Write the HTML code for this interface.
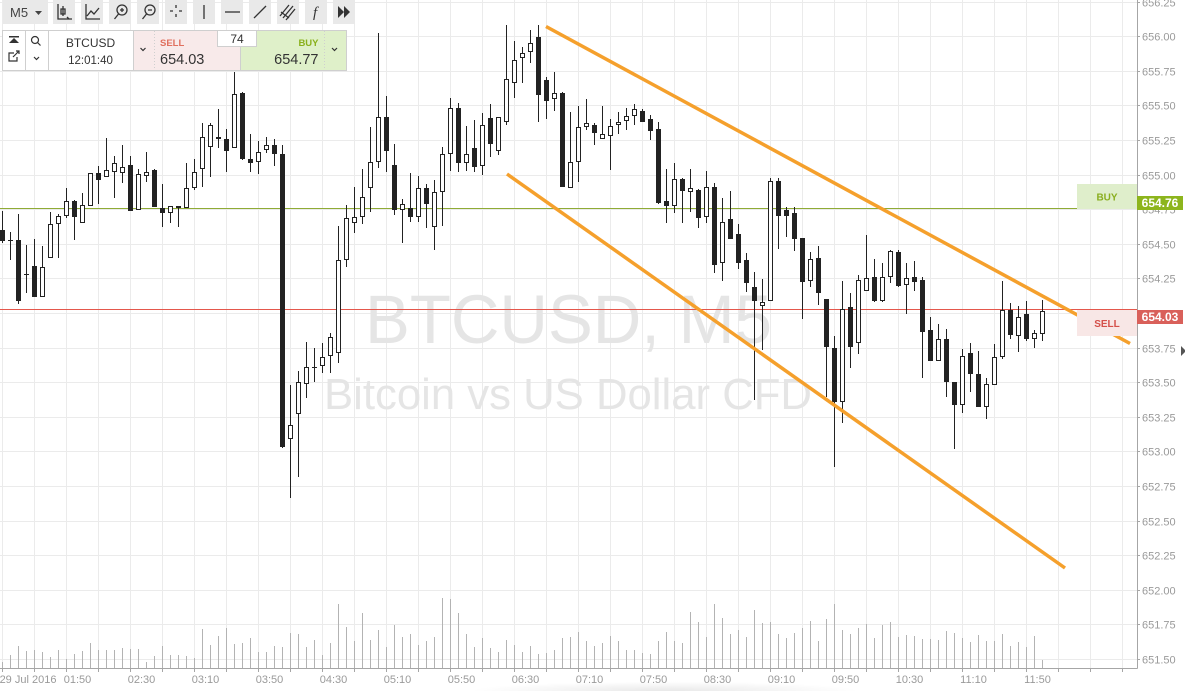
<!DOCTYPE html>
<html><head><meta charset="utf-8">
<style>
html,body{margin:0;padding:0;background:#fff;width:1185px;height:691px;overflow:hidden;}
body{position:relative;font-family:"Liberation Sans",Arial,sans-serif;}
svg{position:absolute;left:0;top:0;display:block;}
</style></head>
<body>
<svg width="1185" height="691" viewBox="0 0 1185 691" xmlns="http://www.w3.org/2000/svg" overflow="hidden">
<defs>
<radialGradient id="sh" cx="0.5" cy="1" r="0.5">
<stop offset="0" stop-color="#000" stop-opacity="0.09"/>
<stop offset="1" stop-color="#000" stop-opacity="0"/>
</radialGradient>
</defs>
<rect x="0" y="0" width="1185" height="691" fill="#fff"/>
<!-- grid -->
<g stroke="#ebebeb" stroke-width="1" fill="none">
<path d="M0 2.5H1137M0 36.5H1137M0 71.5H1137M0 105.5H1137M0 140.5H1137M0 175.5H1137M0 209.5H1137M0 244.5H1137M0 278.5H1137M0 313.5H1137M0 348.5H1137M0 382.5H1137M0 417.5H1137M0 451.5H1137M0 486.5H1137M0 521.5H1137M0 555.5H1137M0 590.5H1137M0 624.5H1137M0 659.5H1137"/>
<path d="M2.5 0V668M34.5 0V668M66.5 0V668M98.5 0V668M130.5 0V668M162.5 0V668M194.5 0V668M226.5 0V668M258.5 0V668M290.5 0V668M322.5 0V668M354.5 0V668M386.5 0V668M418.5 0V668M450.5 0V668M482.5 0V668M514.5 0V668M546.5 0V668M578.5 0V668M610.5 0V668M642.5 0V668M674.5 0V668M706.5 0V668M738.5 0V668M770.5 0V668M802.5 0V668M834.5 0V668M866.5 0V668M898.5 0V668M930.5 0V668M962.5 0V668M994.5 0V668M1026.5 0V668M1058.5 0V668M1090.5 0V668M1122.5 0V668"/>
</g>
<!-- watermark -->
<text x="365" y="343" font-family="Liberation Sans, Arial, sans-serif" font-size="69" fill="#e5e5e5" textLength="407" lengthAdjust="spacingAndGlyphs">BTCUSD, M5</text>
<text x="324" y="409" font-family="Liberation Sans, Arial, sans-serif" font-size="43.5" fill="#e5e5e5" textLength="488" lengthAdjust="spacingAndGlyphs">Bitcoin vs US Dollar CFD</text>
<!-- volume -->
<path stroke="#b3b3b3" stroke-width="1" fill="none" d="M2.5 668V662M10.5 668V655M18.5 668V646M26.5 668V651M34.5 668V650M42.5 668V652M50.5 668V657M58.5 668V650M66.5 668V659M74.5 668V654M82.5 668V651M90.5 668V643M98.5 668V650M106.5 668V650M114.5 668V650M122.5 668V648M130.5 668V649M138.5 668V649M146.5 668V662M154.5 668V656M162.5 668V646M170.5 668V655M178.5 668V655M186.5 668V656M194.5 668V658M202.5 668V629M210.5 668V645M218.5 668V636M226.5 668V628M234.5 668V644M242.5 668V643M250.5 668V638M258.5 668V652M266.5 668V652M274.5 668V646M282.5 668V647M290.5 668V633M298.5 668V634M306.5 668V647M314.5 668V640M322.5 668V655M330.5 668V643M338.5 668V604M346.5 668V627M354.5 668V641M362.5 668V613M370.5 668V640M378.5 668V630M386.5 668V647M394.5 668V625M402.5 668V637M410.5 668V634M418.5 668V645M426.5 668V641M434.5 668V637M442.5 668V598M450.5 668V599M458.5 668V613M466.5 668V634M474.5 668V647M482.5 668V638M490.5 668V648M498.5 668V652M506.5 668V640M514.5 668V645M522.5 668V652M530.5 668V646M538.5 668V654M546.5 668V653M554.5 668V650M562.5 668V638M570.5 668V637M578.5 668V632M586.5 668V641M594.5 668V646M602.5 668V643M610.5 668V636M618.5 668V641M626.5 668V650M634.5 668V650M642.5 668V653M650.5 668V654M658.5 668V641M666.5 668V632M674.5 668V641M682.5 668V643M690.5 668V612M698.5 668V622M706.5 668V637M714.5 668V604M722.5 668V618M730.5 668V634M738.5 668V630M746.5 668V637M754.5 668V610M762.5 668V623M770.5 668V622M778.5 668V634M786.5 668V638M794.5 668V633M802.5 668V628M810.5 668V621M818.5 668V641M826.5 668V619M834.5 668V604M842.5 668V630M850.5 668V634M858.5 668V628M866.5 668V624M874.5 668V638M882.5 668V625M890.5 668V622M898.5 668V637M906.5 668V635M914.5 668V636M922.5 668V639M930.5 668V639M938.5 668V640M946.5 668V631M954.5 668V633M962.5 668V638M970.5 668V642M978.5 668V635M986.5 668V641M994.5 668V641M1002.5 668V634M1010.5 668V646M1018.5 668V642M1026.5 668V647M1034.5 668V636M1042.5 668V660"/>
<!-- buy / sell lines -->
<path d="M0 208.5H1137" stroke="#8fab35" stroke-width="1"/>
<path d="M0 309.5H1137" stroke="#e4574c" stroke-width="1"/>
<!-- wicks -->
<path stroke="#222" stroke-width="1" fill="none" d="M2.5 211V243M10.5 232V260M18.5 214V304M26.5 245V293M34.5 239V297M42.5 246V297M50.5 212V258M58.5 214V258M66.5 188V218M74.5 200V240M82.5 193V223M90.5 173V206M98.5 166V204M106.5 138V177M114.5 156V198M122.5 145V183M130.5 156V211M138.5 169V210M146.5 152V182M154.5 169V207M162.5 184V227M170.5 206V223M178.5 206V227M186.5 163V208M194.5 159V190M202.5 123V187M210.5 123V177M218.5 109V148M226.5 129V172M234.5 72V148M242.5 92V160M250.5 134V172M258.5 141V174M266.5 137V153M274.5 139V166M282.5 145V448M290.5 385V498M298.5 371V477M306.5 342V398M314.5 348V382M322.5 343V373M330.5 333V373M338.5 226V363M346.5 205V267M354.5 187V233M362.5 169V224M370.5 127V212M378.5 33V168M386.5 96V172M394.5 144V215M402.5 199V243M410.5 173V222M418.5 176V222M426.5 184V228M434.5 180V250M442.5 147V226M450.5 98V171M458.5 103V172M466.5 126V171M474.5 120V172M482.5 113V175M490.5 104V157M498.5 117V155M506.5 25V125M514.5 41V98M522.5 47V83M530.5 30V63M538.5 25V122M546.5 77V119M554.5 72V111M562.5 92V187M570.5 112V188M578.5 106V182M586.5 99V130M594.5 123V145M602.5 106V139M610.5 119V170M618.5 112V134M626.5 108V130M634.5 104V125M642.5 109V122M650.5 115V140M658.5 122V204M666.5 169V223M674.5 163V213M682.5 178V223M690.5 169V212M698.5 189V228M706.5 171V223M714.5 183V273M722.5 198V281M730.5 191V239M738.5 224V269M746.5 253V292M754.5 272V400M762.5 279V350M770.5 178V301M778.5 178V249M786.5 207V237M794.5 207V251M802.5 238V319M810.5 252V287M818.5 246V305M826.5 299V397M834.5 336V467M842.5 281V423M850.5 293V368M858.5 275V354M866.5 235V291M874.5 259V302M882.5 263V302M890.5 250V283M898.5 250V287M906.5 263V314M914.5 261V291M922.5 277V378M930.5 317V361M938.5 324V361M946.5 329V397M954.5 382V449M962.5 349V413M970.5 343V392M978.5 351V407M986.5 378V419M994.5 344V385M1002.5 281V359M1010.5 303V339M1018.5 306V352M1026.5 301V341M1034.5 330V348M1042.5 300V341"/>
<!-- black bodies -->
<g fill="#222">
<rect x="0" y="230" width="5" height="11"/>
<rect x="8" y="240" width="5" height="1"/>
<rect x="16" y="240" width="5" height="61"/>
<rect x="24" y="274" width="5" height="1"/>
<rect x="32" y="266" width="5" height="31"/>
<rect x="72" y="201" width="5" height="16"/>
<rect x="96" y="173" width="5" height="7"/>
<rect x="128" y="165" width="5" height="46"/>
<rect x="152" y="170" width="5" height="37"/>
<rect x="160" y="208" width="5" height="5"/>
<rect x="176" y="206" width="5" height="2"/>
<rect x="216" y="137" width="5" height="2"/>
<rect x="224" y="139" width="5" height="12"/>
<rect x="240" y="93" width="5" height="66"/>
<rect x="248" y="159" width="5" height="4"/>
<rect x="272" y="145" width="5" height="9"/>
<rect x="280" y="154" width="5" height="293"/>
<rect x="312" y="367" width="5" height="1"/>
<rect x="384" y="117" width="5" height="34"/>
<rect x="392" y="165" width="5" height="45"/>
<rect x="408" y="208" width="5" height="9"/>
<rect x="424" y="188" width="5" height="16"/>
<rect x="456" y="108" width="5" height="55"/>
<rect x="472" y="148" width="5" height="19"/>
<rect x="488" y="118" width="5" height="26"/>
<rect x="536" y="37" width="5" height="58"/>
<rect x="544" y="80" width="5" height="21"/>
<rect x="560" y="93" width="5" height="94"/>
<rect x="592" y="125" width="5" height="8"/>
<rect x="640" y="111" width="5" height="11"/>
<rect x="648" y="119" width="5" height="12"/>
<rect x="656" y="129" width="5" height="74"/>
<rect x="664" y="201" width="5" height="5"/>
<rect x="680" y="179" width="5" height="12"/>
<rect x="696" y="190" width="5" height="28"/>
<rect x="712" y="187" width="5" height="78"/>
<rect x="728" y="219" width="5" height="20"/>
<rect x="736" y="234" width="5" height="29"/>
<rect x="744" y="260" width="5" height="23"/>
<rect x="752" y="287" width="5" height="14"/>
<rect x="776" y="181" width="5" height="35"/>
<rect x="784" y="210" width="5" height="6"/>
<rect x="792" y="213" width="5" height="26"/>
<rect x="800" y="238" width="5" height="44"/>
<rect x="816" y="258" width="5" height="35"/>
<rect x="824" y="299" width="5" height="48"/>
<rect x="832" y="348" width="5" height="54"/>
<rect x="848" y="307" width="5" height="40"/>
<rect x="872" y="277" width="5" height="24"/>
<rect x="896" y="252" width="5" height="34"/>
<rect x="912" y="277" width="5" height="5"/>
<rect x="920" y="280" width="5" height="52"/>
<rect x="928" y="330" width="5" height="31"/>
<rect x="944" y="339" width="5" height="43"/>
<rect x="952" y="382" width="5" height="23"/>
<rect x="968" y="353" width="5" height="21"/>
<rect x="976" y="374" width="5" height="33"/>
<rect x="1008" y="310" width="5" height="25"/>
<rect x="1024" y="314" width="5" height="25"/>
</g>
<!-- white bodies -->
<g fill="#fff" stroke="#222" stroke-width="1">
<rect x="40.5" y="267.5" width="4" height="29"/>
<rect x="48.5" y="224.5" width="4" height="33"/>
<rect x="56.5" y="216.5" width="4" height="7"/>
<rect x="64.5" y="201.5" width="4" height="14"/>
<rect x="80.5" y="205.5" width="4" height="17"/>
<rect x="88.5" y="173.5" width="4" height="32"/>
<rect x="104.5" y="170.5" width="4" height="6"/>
<rect x="112.5" y="163.5" width="4" height="8"/>
<rect x="120.5" y="167.5" width="4" height="5"/>
<rect x="136.5" y="174.5" width="4" height="35"/>
<rect x="144.5" y="172.5" width="4" height="3"/>
<rect x="168.5" y="206.5" width="4" height="6"/>
<rect x="184.5" y="188.5" width="4" height="19"/>
<rect x="192.5" y="172.5" width="4" height="15"/>
<rect x="200.5" y="137.5" width="4" height="31"/>
<rect x="208.5" y="125.5" width="4" height="21"/>
<rect x="232.5" y="94.5" width="4" height="53"/>
<rect x="256.5" y="152.5" width="4" height="9"/>
<rect x="264.5" y="145.5" width="4" height="4"/>
<rect x="288.5" y="425.5" width="4" height="13"/>
<rect x="296.5" y="382.5" width="4" height="31"/>
<rect x="304.5" y="367.5" width="4" height="16"/>
<rect x="320.5" y="357.5" width="4" height="8"/>
<rect x="328.5" y="337.5" width="4" height="18"/>
<rect x="336.5" y="260.5" width="4" height="92"/>
<rect x="344.5" y="218.5" width="4" height="41"/>
<rect x="352.5" y="217.5" width="4" height="5"/>
<rect x="360.5" y="197.5" width="4" height="19"/>
<rect x="368.5" y="162.5" width="4" height="25"/>
<rect x="376.5" y="117.5" width="4" height="44"/>
<rect x="400.5" y="204.5" width="4" height="5"/>
<rect x="416.5" y="188.5" width="4" height="28"/>
<rect x="432.5" y="192.5" width="4" height="34"/>
<rect x="440.5" y="154.5" width="4" height="37"/>
<rect x="448.5" y="108.5" width="4" height="45"/>
<rect x="464.5" y="154.5" width="4" height="8"/>
<rect x="480.5" y="125.5" width="4" height="40"/>
<rect x="496.5" y="117.5" width="4" height="33"/>
<rect x="504.5" y="79.5" width="4" height="42"/>
<rect x="512.5" y="60.5" width="4" height="22"/>
<rect x="520.5" y="53.5" width="4" height="4"/>
<rect x="528.5" y="43.5" width="4" height="8"/>
<rect x="552.5" y="93.5" width="4" height="5"/>
<rect x="568.5" y="162.5" width="4" height="25"/>
<rect x="576.5" y="127.5" width="4" height="34"/>
<rect x="584.5" y="123.5" width="4" height="3"/>
<rect x="600.5" y="134.5" width="4" height="4"/>
<rect x="608.5" y="126.5" width="4" height="9"/>
<rect x="616.5" y="122.5" width="4" height="2"/>
<rect x="624.5" y="116.5" width="4" height="4"/>
<rect x="632.5" y="109.5" width="4" height="6"/>
<rect x="672.5" y="179.5" width="4" height="26"/>
<rect x="688.5" y="188.5" width="4" height="3"/>
<rect x="704.5" y="187.5" width="4" height="29"/>
<rect x="720.5" y="222.5" width="4" height="40"/>
<rect x="760.5" y="302.5" width="4" height="3"/>
<rect x="768.5" y="181.5" width="4" height="119"/>
<rect x="808.5" y="259.5" width="4" height="21"/>
<rect x="840.5" y="309.5" width="4" height="92"/>
<rect x="856.5" y="280.5" width="4" height="62"/>
<rect x="864.5" y="278.5" width="4" height="12"/>
<rect x="880.5" y="277.5" width="4" height="23"/>
<rect x="888.5" y="251.5" width="4" height="25"/>
<rect x="904.5" y="278.5" width="4" height="6"/>
<rect x="936.5" y="339.5" width="4" height="21"/>
<rect x="960.5" y="356.5" width="4" height="48"/>
<rect x="984.5" y="384.5" width="4" height="22"/>
<rect x="992.5" y="357.5" width="4" height="27"/>
<rect x="1000.5" y="310.5" width="4" height="46"/>
<rect x="1016.5" y="317.5" width="4" height="18"/>
<rect x="1032.5" y="333.5" width="4" height="5"/>
<rect x="1040.5" y="311.5" width="4" height="22"/>
</g>
<!-- channel lines -->
<g stroke="#f5a02c" stroke-width="3.5" stroke-linecap="butt">
<line x1="546" y1="26.5" x2="1130" y2="343.5"/>
<line x1="507" y1="174" x2="1065" y2="568"/>
</g>
<!-- BUY / SELL boxes -->
<rect x="1077" y="184" width="60" height="25" fill="#dfeecb"/>
<text x="1107" y="200.5" font-size="10" font-weight="bold" fill="#8aae1f" text-anchor="middle">BUY</text>
<rect x="1077" y="310" width="60" height="26" fill="#f8e7e6"/>
<text x="1107" y="327" font-size="10" font-weight="bold" fill="#d4504a" text-anchor="middle">SELL</text>
<!-- axes -->
<rect x="1137.5" y="0" width="47.5" height="691" fill="#fff"/>
<rect x="0" y="668.5" width="1185" height="22.5" fill="#fff"/>
<rect x="470" y="672" width="390" height="19" fill="url(#sh)"/>
<path d="M1137.5 0V668.5M0 668.5H1137.5" stroke="#a6a6a6" stroke-width="1" fill="none"/>
<path stroke="#a6a6a6" stroke-width="1" d="M1137 2.5H1140M1137 36.5H1140M1137 71.5H1140M1137 105.5H1140M1137 140.5H1140M1137 175.5H1140M1137 209.5H1140M1137 244.5H1140M1137 278.5H1140M1137 348.5H1140M1137 382.5H1140M1137 417.5H1140M1137 451.5H1140M1137 486.5H1140M1137 521.5H1140M1137 555.5H1140M1137 590.5H1140M1137 624.5H1140M1137 659.5H1140"/>
<path stroke="#a6a6a6" stroke-width="1" d="M2.5 668V672M34.5 668V672M66.5 668V672M98.5 668V672M130.5 668V672M162.5 668V672M194.5 668V672M226.5 668V672M258.5 668V672M290.5 668V672M322.5 668V672M354.5 668V672M386.5 668V672M418.5 668V672M450.5 668V672M482.5 668V672M514.5 668V672M546.5 668V672M578.5 668V672M610.5 668V672M642.5 668V672M674.5 668V672M706.5 668V672M738.5 668V672M770.5 668V672M802.5 668V672M834.5 668V672M866.5 668V672M898.5 668V672M930.5 668V672M962.5 668V672M994.5 668V672M1026.5 668V672M1058.5 668V672M1090.5 668V672M1122.5 668V672"/>
<g font-size="11" fill="#9a9a9a" font-family="Liberation Sans, Arial, sans-serif">
<text x="1142" y="6.5">656.25</text>
<text x="1142" y="40.5">656.00</text>
<text x="1142" y="75.5">655.75</text>
<text x="1142" y="109.5">655.50</text>
<text x="1142" y="144.5">655.25</text>
<text x="1142" y="179.5">655.00</text>
<text x="1142" y="213.5">654.75</text>
<text x="1142" y="248.5">654.50</text>
<text x="1142" y="282.5">654.25</text>
<text x="1142" y="352.5">653.75</text>
<text x="1142" y="386.5">653.50</text>
<text x="1142" y="421.5">653.25</text>
<text x="1142" y="455.5">653.00</text>
<text x="1142" y="490.5">652.75</text>
<text x="1142" y="525.5">652.50</text>
<text x="1142" y="559.5">652.25</text>
<text x="1142" y="594.5">652.00</text>
<text x="1142" y="628.5">651.75</text>
<text x="1142" y="663.5">651.50</text>
</g>
<g font-size="11" fill="#9a9a9a" text-anchor="middle" font-family="Liberation Sans, Arial, sans-serif">
<text x="28" y="683">29 Jul 2016</text>
<text x="77.5" y="683">01:50</text>
<text x="141.5" y="683">02:30</text>
<text x="205.5" y="683">03:10</text>
<text x="269.5" y="683">03:50</text>
<text x="333.5" y="683">04:30</text>
<text x="397.5" y="683">05:10</text>
<text x="461.5" y="683">05:50</text>
<text x="525.5" y="683">06:30</text>
<text x="589.5" y="683">07:10</text>
<text x="653.5" y="683">07:50</text>
<text x="717.5" y="683">08:30</text>
<text x="781.5" y="683">09:10</text>
<text x="845.5" y="683">09:50</text>
<text x="909.5" y="683">10:30</text>
<text x="973.5" y="683">11:10</text>
<text x="1037.5" y="683">11:50</text>
</g>
<!-- price tags -->
<rect x="1137" y="196" width="46" height="14" fill="#8db51d"/>
<text x="1160" y="207" font-size="12" font-weight="bold" fill="#fff" text-anchor="middle">654.76</text>
<rect x="1137" y="310" width="46" height="14" fill="#d9605a"/>
<text x="1160" y="321" font-size="12" font-weight="bold" fill="#fff" text-anchor="middle">654.03</text>
<polygon points="1181,346 1185,350 1185,352 1181,356" fill="#555"/>

<!-- toolbar -->
<g fill="#e9e9e9">
<rect x="3" y="0" width="45" height="24"/>
<rect x="53" y="0" width="22" height="24"/>
<rect x="81" y="0" width="22" height="24"/>
<rect x="109" y="0" width="22" height="24"/>
<rect x="137" y="0" width="22" height="24"/>
<rect x="165" y="0" width="22" height="24"/>
<rect x="193" y="0" width="22" height="24"/>
<rect x="221" y="0" width="22" height="24"/>
<rect x="249" y="0" width="22" height="24"/>
<rect x="277" y="0" width="22" height="24"/>
<rect x="305" y="0" width="22" height="24"/>
<rect x="333" y="0" width="22" height="24"/>
</g>
<text x="10" y="17" font-size="13" fill="#444">M5</text>
<polygon points="35,11 42,11 38.5,15" fill="#444"/>
<g stroke="#333" stroke-width="1.3" fill="none">
<path d="M58 4V19H72M63 6V16M61 9h4v5h-4z M67 17l2 2"/>
<path d="M86 4V19H100M87 16l4-5 3 3 5-6"/>
<circle cx="122" cy="10" r="5"/><path d="M118.5 14l-4 5M120 10h4M122 8v4"/>
<circle cx="150" cy="10" r="5"/><path d="M146.5 14l-4 5M148 10h4"/>
<path d="M176 5v3M176 14v3M170 11h3M179 11h3"/>
<path d="M204 5v14"/>
<path d="M225 12h15"/>
<path d="M254 18l12-12"/>
<path d="M280 16l9-11M283 18l10-12M286 20l9-11M281 12l8 6"/>
</g>
<text x="313" y="17" font-size="15" font-style="italic" fill="#333" font-family="Liberation Serif, serif">f</text>
<polygon points="338,6 344,12 338,18" fill="#333"/>
<polygon points="344,6 350,12 344,18" fill="#333"/>

<!-- info panel -->
<rect x="2.5" y="30.5" width="344" height="40" fill="#fff" stroke="#cfcfcf" stroke-width="1"/>
<rect x="133" y="31" width="107" height="39" fill="#f8eaea"/>
<rect x="240" y="31" width="106" height="39" fill="#dff0c9"/>
<path d="M25.5 31V70M48.5 31V70M133.5 31V70" stroke="#cfcfcf" stroke-width="1"/>
<path d="M154.5 31V70M324.5 31V70" stroke="#cfcfcf" stroke-width="1" stroke-dasharray="1,2"/>
<path d="M240.5 46V70" stroke="#cfcfcf" stroke-width="1"/>
<g fill="#333">
<rect x="9" y="36" width="10" height="1.5"/>
<polygon points="14,38 9,43 19,43"/>
</g>
<g stroke="#333" stroke-width="1.2" fill="none">
<path d="M14 53h-5v8h8v-4M13 57l6-6M16 51h3v3"/>
<circle cx="35" cy="40" r="3.5"/><path d="M37.5 42.5l3 3"/>
<path d="M34 57l2.5 2.5 2.5-2.5"/>
<path d="M140.5 48l2.5 2.5 2.5-2.5"/>
<path d="M332 48l2.5 2.5 2.5-2.5"/>
</g>
<text x="90.5" y="47" font-size="12" fill="#333" text-anchor="middle">BTCUSD</text>
<text x="90.5" y="64" font-size="11.5" fill="#333" text-anchor="middle">12:01:40</text>
<text x="160" y="46" font-size="9.5" font-weight="bold" fill="#e0705f">SELL</text>
<text x="160" y="64" font-size="14.5" fill="#333">654.03</text>
<text x="318.5" y="46" font-size="9.5" font-weight="bold" fill="#8ab01c" text-anchor="end">BUY</text>
<text x="318.5" y="64" font-size="14.5" fill="#333" text-anchor="end">654.77</text>
<rect x="217.5" y="30.5" width="39" height="16" fill="#fff" stroke="#cfcfcf" stroke-width="1"/>
<text x="237" y="43" font-size="12" fill="#333" text-anchor="middle">74</text>
</svg>
</body></html>
